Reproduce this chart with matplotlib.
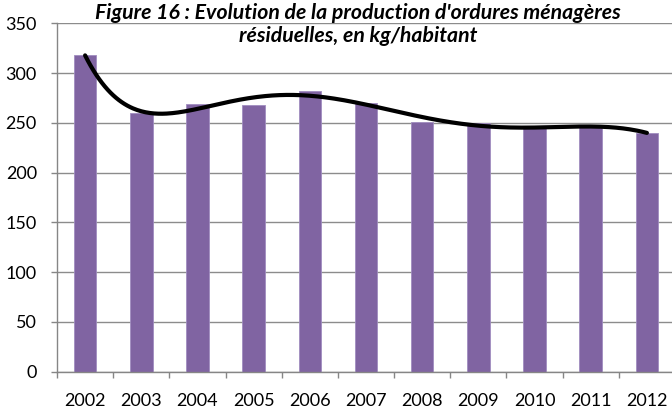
import numpy as np
import matplotlib
matplotlib.use("Agg")
import matplotlib.pyplot as plt
from matplotlib.ticker import FixedLocator, NullFormatter

years = ["2002", "2003", "2004", "2005", "2006", "2007", "2008", "2009", "2010", "2011", "2012"]
values = [318, 260, 269, 268, 282, 270, 251, 250, 245, 246, 240]
yticks = [0, 50, 100, 150, 200, 250, 300, 350]
title = "Figure 16 : Evolution de la production d'ordures ménagères\nrésiduelles, en kg/habitant"

plt.rcParams['font.family'] = ['Lato', 'DejaVu Sans']

fig = plt.figure(figsize=(6.72, 4.08), dpi=100)
ax = fig.add_axes([57/672, 1-371.7/408, (675-57)/672, (371.7-23.3)/408])

x = np.arange(len(years))
ax.bar(x, values, width=0.4, color="#8064A2", edgecolor="#A08CC0", linewidth=0.6, zorder=2)

# polynomial trend line (order 6) like the spreadsheet trendline
coef = np.polyfit(x, values, 6)
xs = np.linspace(0, len(years)-1, 400)
ax.plot(xs, np.polyval(coef, xs), color="black", lw=3.0, solid_capstyle="round", zorder=3)

ax.set_xlim(-0.5, len(years)-0.5)
ax.set_ylim(0, 350)
ax.set_yticks(yticks)
ax.yaxis.grid(True, color="#8c8c8c", lw=1.0, zorder=0)
ax.set_axisbelow(True)

ax.xaxis.set_major_locator(FixedLocator(np.arange(-0.5, len(years), 1.0)))
ax.xaxis.set_major_formatter(NullFormatter())
ax.xaxis.set_minor_locator(FixedLocator(x))
ax.set_xticklabels(years, minor=True)
ax.tick_params(axis="x", which="major", length=4.5, color="#868686", width=1.0, direction="out")
ax.tick_params(axis="x", which="minor", length=0, pad=15, labelsize=13)
ax.tick_params(axis="y", length=4.5, color="#868686", width=1.0, pad=10, labelsize=13)

for s in ["top", "right"]:
    ax.spines[s].set_visible(False)
for s in ["left", "bottom"]:
    ax.spines[s].set_color("#868686")
    ax.spines[s].set_linewidth(1.0)

fig.text(358/672, 1-24.5/408, title, ha="center", va="center", fontsize=15.3,
         fontweight="bold", fontstyle="italic", linespacing=1.2)

fig.savefig("out.png", dpi=100)
